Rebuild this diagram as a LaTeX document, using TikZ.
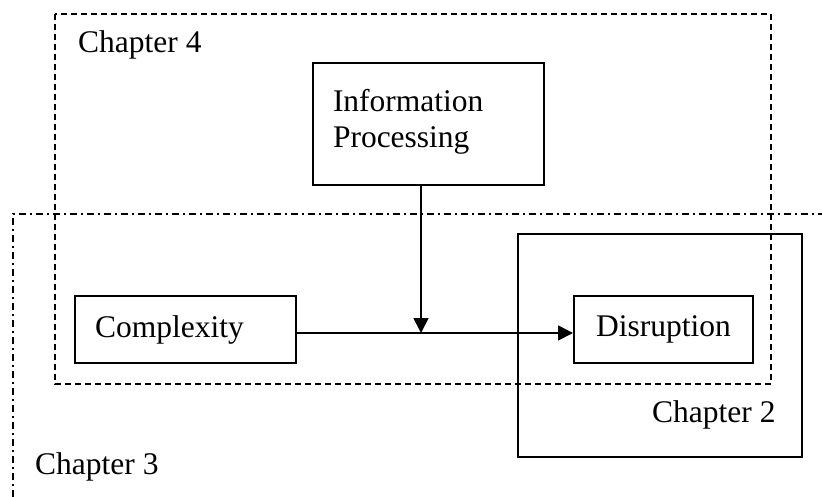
\documentclass[tikz,border=0pt]{standalone}
\usepackage{fontspec}
\setmainfont{Liberation Serif}
\usetikzlibrary{arrows.meta}

\begin{document}
\begin{tikzpicture}[
  x=1pt, y=-1pt,
  every node/.style={font=\fontsize{31.5}{36}\selectfont, inner sep=0pt},
  box/.style={draw, line width=2pt, minimum height=67pt},
  leftbox/.style={box, align=left, inner xsep=20pt},
  frame/.style={line width=1.4pt},
  ch4frame/.style={frame, dash pattern=on 6pt off 4pt},
  ch3frame/.style={frame, dash pattern=on 7pt off 4pt on 2pt off 4pt},
  ch2frame/.style={line width=2pt},
  arrowline/.style={draw, line width=1.8pt, -{Triangle[length=15pt,width=15pt]}}
]
\useasboundingbox (0,0) rectangle (822,497);

% Chapter frames
\draw[ch4frame] (55,14) rectangle (771,384);
\draw[ch3frame] (13,497) |- (822,214);
\draw[ch2frame] (518,234) rectangle (802,457);

\node[anchor=base west] (ch4) at (78,53) {Chapter 4};
\node[anchor=base west] (ch3) at (35,474) {Chapter 3};
\node[anchor=base west] (ch2) at (652,422) {Chapter 2};

% Constructs
\node[leftbox, text width=191pt, minimum height=122pt, text depth=47pt, anchor=north west] (info) at (312,62) {Information\\Processing};
\node[leftbox, text width=181pt, anchor=north west] (cx) at (74,295) {Complexity};
\node[box, minimum width=179pt, anchor=north west] (dis) at (573,295) {Disruption};

% Links
\coordinate (join) at (421,333);
\draw[arrowline] (cx.east |- join) -- (dis.west |- join);
\draw[arrowline] (info.south -| join) -- (join);

\end{tikzpicture}
\end{document}
